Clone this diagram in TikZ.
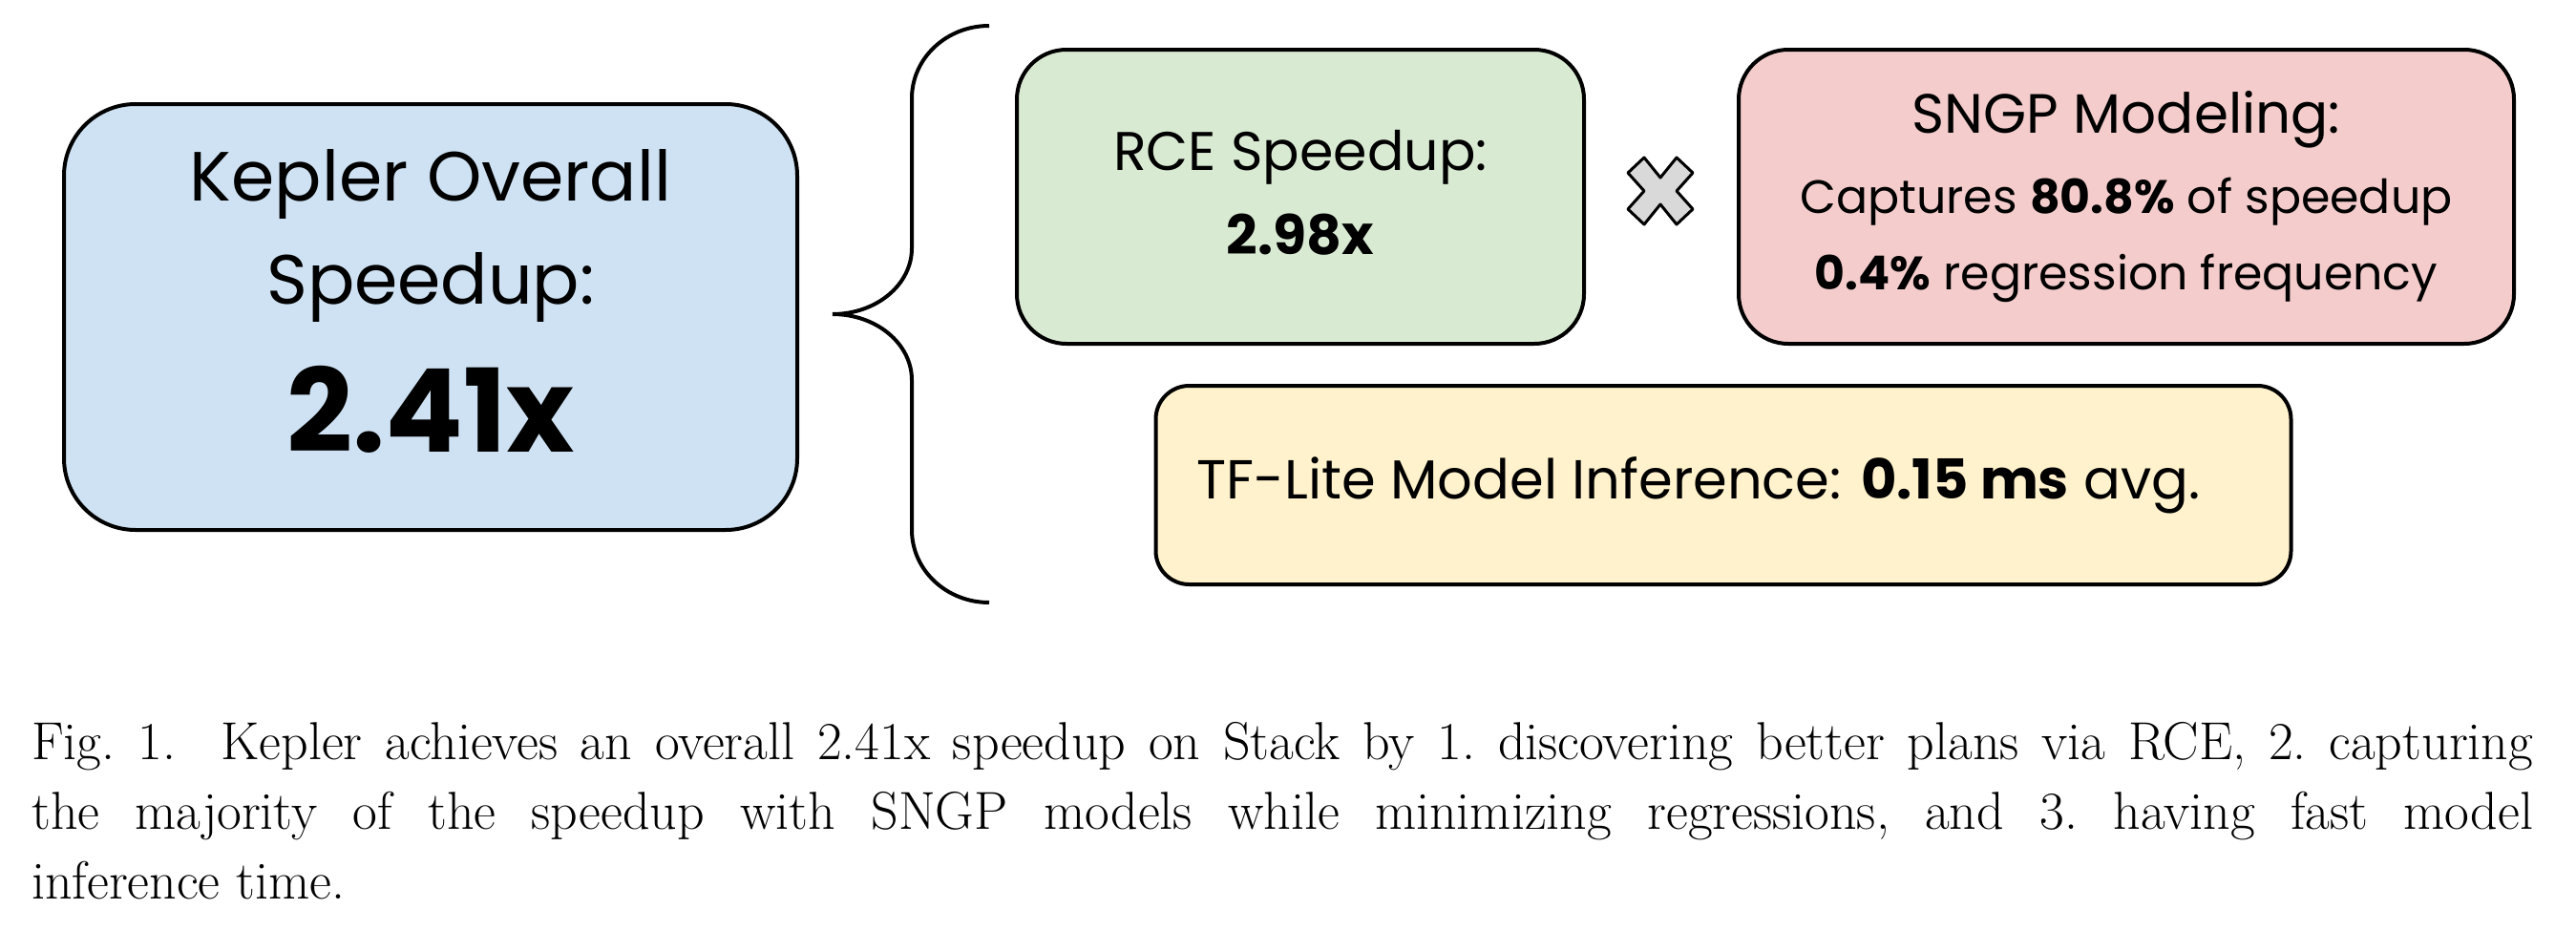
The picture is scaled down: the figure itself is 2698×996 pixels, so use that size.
\documentclass[tikz,border=0pt]{standalone}
\usepackage{fontspec}
\usepackage{tikz}
\newfontfamily\slidefont{Poppins}
\definecolor{kblue}{HTML}{CFE2F3}
\definecolor{kgreen}{HTML}{D9EAD3}
\definecolor{kpink}{HTML}{F4CCCC}
\definecolor{kyellow}{HTML}{FFF2CC}
\definecolor{kgray}{HTML}{D9D9D9}
\newcommand{\fsz}[2]{\fontsize{#1}{#2}\selectfont}

\begin{document}
\begin{tikzpicture}[x=1pt,y=-1pt]
		\useasboundingbox (0,0) rectangle (2698,996);

		\begin{scope}[every node/.style={draw,line width=4pt,align=center,inner sep=0pt}]
			\node[fill=kblue,rounded corners=75pt,minimum width=768pt,minimum height=446pt,
				font=\slidefont\fsz{73}{108}] (overall) at (451,332)
				{Kepler Overall\\Speedup:\\[44pt]\fsz{121}{120}\bfseries 2.41x\rule[-34pt]{0pt}{34pt}};

			\node[fill=kgreen,rounded corners=52pt,minimum width=594pt,minimum height=308pt,
				font=\slidefont\fsz{57}{88}] (rce) at (1362,206)
				{RCE Speedup:\\\bfseries 2.98x\rule[-10pt]{0pt}{10pt}};

			\node[fill=kpink,rounded corners=52pt,minimum width=812pt,minimum height=308pt,
				font=\slidefont\fsz{58}{80}] (sngp) at (2227,206)
				{SNGP Modeling:\\[4pt]
				 \fsz{49}{71}Captures \textbf{80.8\%} of speedup\\
				 \fsz{49}{71}\textbf{0.4\%} regression frequency};

			\node[fill=kyellow,rounded corners=35pt,minimum width=1189pt,minimum height=208pt,
				font=\slidefont\fsz{57.5}{60}] (tflite) at (1805,508)
				{TF-Lite Model Inference: \textbf{0.15 ms} avg.\kern52pt\rule[-8pt]{0pt}{8pt}};
		\end{scope}

		% times sign between the two upper boxes
		\coordinate (times) at (1739,200);
		\draw[line width=3pt,line join=round,fill=kgray] (times)
			++(0,-14) -- ++(17,-21) -- ++(17,16) -- ++(-17,19) -- ++(17,19) -- ++(-17,16)
			-- ++(-17,-21) -- ++(-17,21) -- ++(-17,-16) -- ++(17,-19) -- ++(-17,-19) -- ++(17,-16) -- cycle;

		% brace
		\draw[line width=4pt] (1036,27) arc[start angle=90,end angle=180,x radius=81pt,y radius=76pt]
			-- (955,260) arc[start angle=0,end angle=-90,x radius=83pt,y radius=69pt]
			arc[start angle=90,end angle=0,x radius=83pt,y radius=69pt]
			-- (955,555) arc[start angle=180,end angle=270,x radius=81pt,y radius=76pt];

		\node[anchor=north west,text width=2620pt,align=justify,inner sep=0pt,
			font=\frenchspacing\fsz{56}{73}] (caption) at (33,756)
			{Fig.~1.\ \ Kepler achieves an overall 2.41x speedup on Stack by 1. discovering better plans via RCE, 2. capturing\linebreak
			the majority of the speedup with SNGP models while minimizing regressions, and 3. having fast model\linebreak
			inference time.};
\end{tikzpicture}
\end{document}
